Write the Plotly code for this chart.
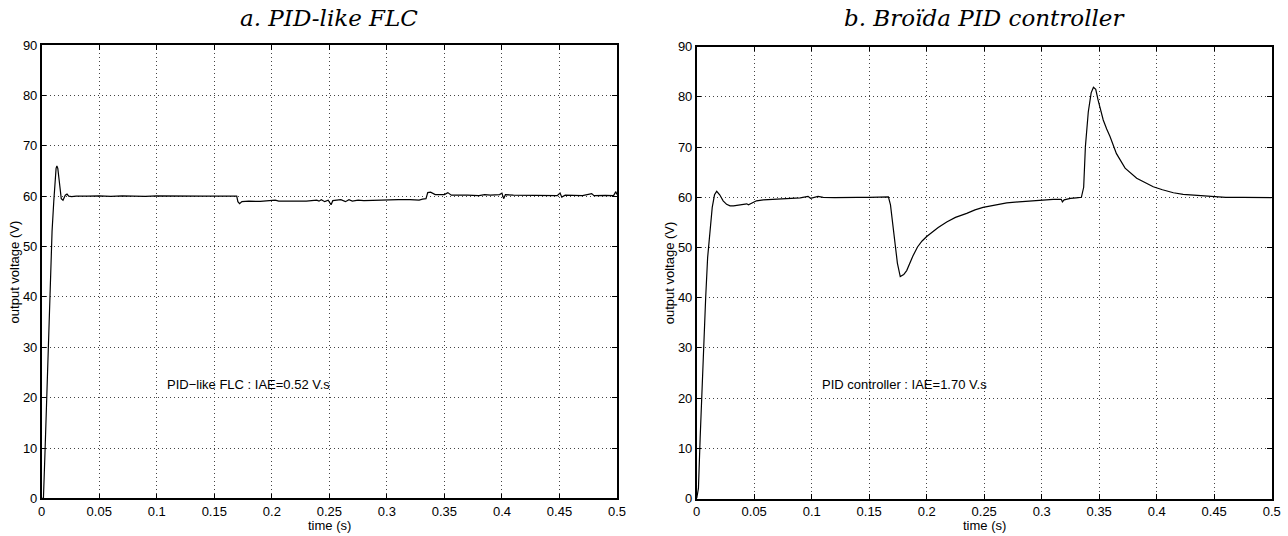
import plotly.graph_objects as go

# ---- Data ----
t_flc = [0, 0.0015, 0.003, 0.0045, 0.006, 0.0075, 0.009, 0.0105, 0.0115, 0.0125, 0.0132,
         0.014, 0.015, 0.016, 0.017, 0.0185, 0.0195, 0.0205, 0.022, 0.0235, 0.026, 0.03,
         0.04, 0.05, 0.06, 0.07, 0.08, 0.09, 0.1, 0.11, 0.12, 0.13, 0.14, 0.15, 0.16, 0.1695,
         0.1705, 0.172, 0.174, 0.18, 0.19, 0.2, 0.203, 0.206, 0.21, 0.22, 0.23, 0.239, 0.241,
         0.243, 0.246, 0.249, 0.2515, 0.253, 0.257, 0.26, 0.264, 0.267, 0.27, 0.275, 0.28,
         0.29, 0.3, 0.31, 0.32, 0.328, 0.331, 0.334, 0.3355, 0.338, 0.342, 0.35, 0.353,
         0.356, 0.37, 0.38, 0.385, 0.39, 0.398, 0.4, 0.4015, 0.403, 0.41, 0.43, 0.448,
         0.4505, 0.452, 0.455, 0.47, 0.478, 0.48, 0.49, 0.497, 0.499, 0.5]
v_flc = [0, 0, 10, 22, 34, 45, 53, 59, 63, 65.5, 66,
         65.5, 63.5, 61, 59.5, 59.2, 59.6, 60.2, 60.4, 60.0, 59.9, 60.0,
         60.0, 60.05, 59.95, 60.05, 60.0, 59.95, 60.05, 60.0, 60.0, 60.05, 60.0, 60.02, 60.0, 60.0,
         58.9, 58.5, 58.9, 59.0, 58.95, 59.05, 59.2, 59.0, 59.0, 59.1, 59.0, 59.2, 59.0,
         59.3, 58.9, 59.2, 58.3, 59.1, 59.2, 59.3, 58.9, 59.3, 59.0, 59.2, 59.1,
         59.2, 59.25, 59.3, 59.3, 59.2, 59.4, 59.5, 60.7, 60.8, 60.3, 60.3, 60.7,
         60.2, 60.2, 60.1, 60.3, 60.2, 60.3, 60.6, 59.5, 60.3, 60.2, 60.15, 60.1,
         60.6, 59.8, 60.2, 60.1, 60.5, 60.1, 60.15, 60.1, 60.9, 60.3]

t_pid = [0, 0.0015, 0.003, 0.005, 0.0065, 0.0078, 0.0095, 0.0116, 0.0135, 0.0155, 0.0174,
         0.02, 0.023, 0.026, 0.029, 0.032, 0.036, 0.04, 0.0435, 0.045, 0.048, 0.052, 0.058,
         0.065, 0.0724, 0.08, 0.09, 0.0968, 0.099, 0.1055, 0.11, 0.12, 0.13, 0.14, 0.15, 0.16,
         0.1667, 0.1685, 0.171, 0.1745, 0.177, 0.18, 0.1826, 0.185, 0.188, 0.192, 0.196, 0.2,
         0.205, 0.21, 0.2174, 0.225, 0.2348, 0.242, 0.249, 0.258, 0.2696, 0.28, 0.2985, 0.31,
         0.317, 0.318, 0.3195, 0.325, 0.33, 0.3345, 0.3365, 0.338, 0.3405, 0.343, 0.345, 0.347,
         0.349, 0.3515, 0.3535, 0.3565, 0.3594, 0.365, 0.3725, 0.3826, 0.39, 0.397, 0.405,
         0.4145, 0.423, 0.432, 0.44, 0.4493, 0.46, 0.475, 0.49, 0.5]
v_pid = [0, 2, 12, 25, 34, 40, 48, 54.1, 58, 60.5, 61.2,
         60.5, 59.3, 58.6, 58.3, 58.3, 58.4, 58.6, 58.7, 58.5, 58.9, 59.3, 59.5,
         59.6, 59.7, 59.8, 59.9, 60.2, 59.8, 60.2, 60.0, 59.95, 60.05, 60.0, 60.0, 60.05,
         60.1, 58.5, 53.5, 46.9, 44.2, 44.6, 45.4, 46.8, 48.3, 50.1, 51.3, 52.2,
         53.1, 54.0, 55.1, 56.0, 56.8, 57.5, 58.0, 58.4, 58.9, 59.1, 59.5, 59.6,
         59.6, 59.1, 59.5, 59.8, 59.9, 60.0, 62, 70.1, 77, 80.8, 81.9, 81.5,
         79.4, 77.2, 75.4, 73.6, 72.1, 68.7, 65.8, 63.8, 62.9, 62.1, 61.5,
         60.9, 60.6, 60.45, 60.3, 60.1, 60.0, 60.0, 60.0, 59.95]

x_ticks = [0, 0.05, 0.1, 0.15, 0.2, 0.25, 0.3, 0.35, 0.4, 0.45, 0.5]
x_labels = ["0", "0.05", "0.1", "0.15", "0.2", "0.25", "0.3", "0.35", "0.4", "0.45", "0.5"]
y_ticks = [0, 10, 20, 30, 40, 50, 60, 70, 80, 90]

titles = ["a. PID-like FLC", "b. Broïda PID controller"]
notes = ["PID\u2212like FLC : IAE=0.52 V.s", "PID controller : IAE=1.70 V.s"]

W, H = 1288, 536
SANS = "Liberation Sans, Arial, sans-serif"


def px(x):  # screen x -> paper fraction
    return x / W


def py(y):  # screen y -> paper fraction
    return 1 - y / H


fig = go.Figure()
fig.add_trace(go.Scatter(x=t_flc, y=v_flc, mode="lines", line=dict(color="black", width=1.2),
                         xaxis="x", yaxis="y", showlegend=False))
fig.add_trace(go.Scatter(x=t_pid, y=v_pid, mode="lines", line=dict(color="black", width=1.2),
                         xaxis="x2", yaxis="y2", showlegend=False))

tickfont = dict(family=SANS, size=13, color="black")


def common():
    return dict(showgrid=True, gridcolor="#444", griddash="1px,3px", gridwidth=1,
                showline=True, linecolor="black", linewidth=1.5, mirror="ticks",
                ticks="inside", ticklen=5, tickcolor="black", tickwidth=1,
                zeroline=False, tickfont=tickfont, fixedrange=True, automargin=False)


def xax(domain, anchor):
    d = common()
    d.update(domain=domain, anchor=anchor, range=[0, 0.5], tickvals=x_ticks, ticktext=x_labels)
    return d


def yax(domain, anchor):
    d = common()
    d.update(domain=domain, anchor=anchor, range=[0, 90], tickvals=y_ticks)
    return d


xd1 = [px(41.7), px(617)]
xd2 = [px(696.7), px(1271.7)]
yd1 = [py(498.4), py(45)]
yd2 = [py(498.5), py(46.7)]

fig.update_layout(
    width=W, height=H,
    margin=dict(l=0, r=0, t=0, b=0, pad=0, autoexpand=False),
    paper_bgcolor="white", plot_bgcolor="white",
    xaxis=xax(xd1, "y"), yaxis=yax(yd1, "x"),
    xaxis2=xax(xd2, "y2"), yaxis2=yax(yd2, "x2"),
)

annots = []
for i, (xd, yd) in enumerate([(xd1, yd1), (xd2, yd2)]):
    cx = (xd[0] + xd[1]) / 2
    annots.append(dict(text=titles[i], x=cx, y=py(18), xref="paper", yref="paper",
                       showarrow=False, xanchor="center", yanchor="middle",
                       font=dict(family="DejaVu Serif, serif", size=23, color="black",
                                 style="italic")))
    annots.append(dict(text="time (s)", x=cx, y=py(525.5), xref="paper", yref="paper",
                       showarrow=False, xanchor="center", yanchor="middle",
                       font=dict(family=SANS, size=13, color="black")))
    annots.append(dict(text="output voltage (V)", x=xd[0] - 27 / W,
                       y=(yd[0] + yd[1]) / 2, xref="paper", yref="paper", textangle=-90,
                       showarrow=False, xanchor="center", yanchor="middle",
                       font=dict(family=SANS, size=13, color="black")))
    annots.append(dict(text=notes[i], x=0.1068, y=22.7, xref="x" if i == 0 else "x2",
                       yref="y" if i == 0 else "y2", showarrow=False,
                       xanchor="left", yanchor="middle",
                       font=dict(family=SANS, size=13, color="black")))

fig.update_layout(annotations=annots)
# remove the browser's default 8px body margin so the 1288x536 figure fills the window
fig.write_html("out.html", config={"displayModeBar": False},
               post_script="document.body.style.margin='0px';")
